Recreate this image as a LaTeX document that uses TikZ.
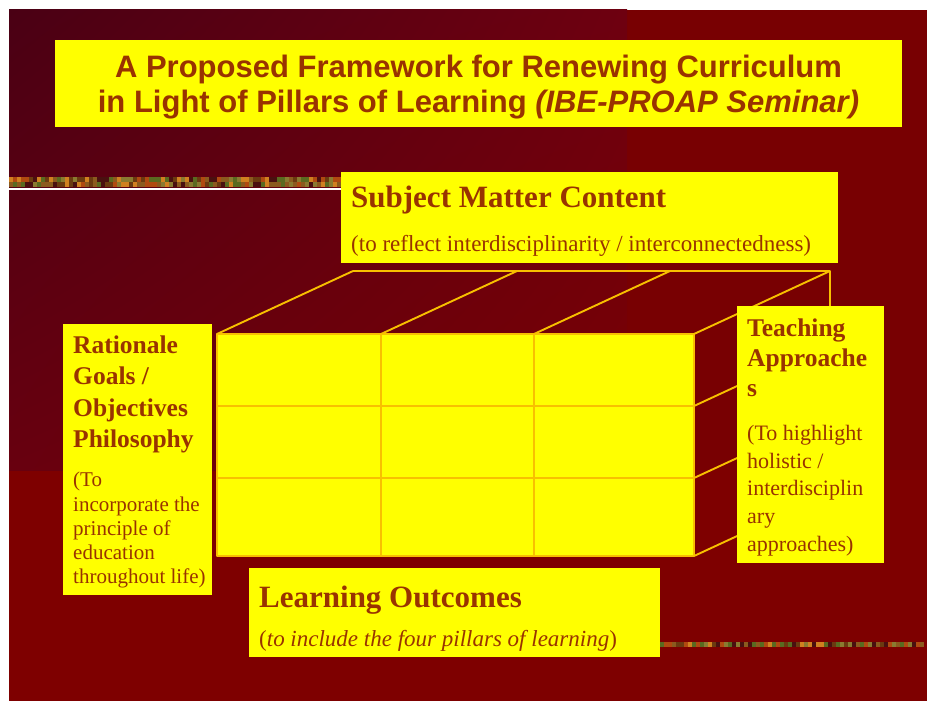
\documentclass[tikz,border=0pt]{standalone}
\usepackage{fontspec}
\setmainfont{Liberation Serif}
\newfontfamily\titlefont{Liberation Sans}
\usepackage{xcolor}
\definecolor{slidered}{HTML}{7E0000}
\definecolor{sidered}{HTML}{780002}
\definecolor{darkcorner}{HTML}{4A0014}
\definecolor{midred}{HTML}{6E0010}
\definecolor{lowred}{HTML}{68000F}
\definecolor{boxyellow}{HTML}{FFFF00}
\definecolor{brownink}{HTML}{993300}
\definecolor{cubeline}{HTML}{F8C000}
\definecolor{stripa}{HTML}{8B5A1E}
\definecolor{stripb}{HTML}{6B3A10}
\definecolor{stripc}{HTML}{B04A10}
\definecolor{stripd}{HTML}{5A6A20}
\definecolor{stripe}{HTML}{D08020}
\definecolor{stripf}{HTML}{4A1010}
\definecolor{stripg}{HTML}{8A7A30}
\usetikzlibrary{positioning, shadings}
\pgfmathdeclarerandomlist{stripcols}{{stripa}{stripb}{stripc}{stripd}{stripe}{stripf}{stripg}}

\begin{document}
\begin{tikzpicture}[x=1pt, y=-1pt,
  ybox/.style={fill=boxyellow, inner sep=0pt, anchor=north west},
  head/.style 2 args={text=brownink, anchor=base west, align=left, inner sep=0pt,
    font=\bfseries\fontsize{#1}{#2}\selectfont},
  body/.style 2 args={text=brownink, anchor=base west, align=left, inner sep=0pt,
    font=\fontsize{#1}{#2}\selectfont},
  cubeedge/.style={draw=cubeline, line width=1.9pt, line join=round},
  gridline/.style={draw=cubeline, line width=1.5pt}]
  \useasboundingbox (0,0) rectangle (927,701);
  \fill[white] (0,0) rectangle (927,701);

  % --- slide background ---
  \fill[slidered] (9,10) rectangle (927,701);
  \fill[sidered] (627,10) rectangle (927,470);
  \shade[upper left=darkcorner, upper right=midred, lower left=lowred, lower right=sidered]
    (9,10) rectangle (627,470);

  % decorative strips
  \pgfmathsetseed{17}
  \foreach \sx in {9,13,...,337}
    \foreach \sy in {177,182} {
      \pgfmathrandomitem{\scol}{stripcols}
      \fill[\scol] (\sx,\sy) rectangle ++(4,5);
    }
  \fill[white] (9,187.5) rectangle (341,189.5);
  \foreach \sx in {660,664,...,923} {
    \pgfmathrandomitem{\scol}{stripcols}
    \fill[\scol] (\sx,642) rectangle ++(4,5);
  }

  % --- title (base = last line) ---
  \node[ybox, minimum width=847pt, minimum height=87pt] (titlebox) at (55,40) {};
  \node[text=brownink, anchor=base, align=center, inner sep=0pt,
    font=\titlefont\bfseries\fontsize{31}{35}\selectfont] (title) at (478.5,112.7)
    {A Proposed Framework for Renewing Curriculum\\
     in Light of Pillars of Learning \textit{(IBE-PROAP Seminar)}};

  % --- the box ---
  \fill[boxyellow] (217,334) rectangle (694,556);
  \foreach \gx in {381,534} \draw[gridline] (\gx,334) -- (\gx,556);
  \foreach \gy in {406,478} \draw[gridline] (217,\gy) -- (694,\gy);
  \draw[cubeedge] (217,334) rectangle (694,556);
  \foreach \gx in {217,381,534,694} \draw[cubeedge] (\gx,334) -- ++(136,-63);
  \foreach \gy in {406,478,556} \draw[cubeedge] (694,\gy) -- ++(136,-63);
  \draw[cubeedge] (353,271) -- (830,271) -- (830,493);

  % --- Subject Matter Content ---
  \node[ybox, minimum width=497pt, minimum height=91pt] (subjbox) at (341,172) {};
  \node[head={31}{36}] (subjhead) at (351,207.3) {Subject Matter Content};
  \node[body={23}{27}] (subjbody) at (351,251)
    {(to reflect interdisciplinarity / interconnectedness)};

  % --- Rationale ---
  \node[ybox, minimum width=149pt, minimum height=271pt] (ratbox) at (63,324) {};
  \node[head={25.5}{31.4}] (rathead) at (73,447.5)
    {Rationale\\ Goals /\\ Objectives\\ Philosophy};
  \node[body={21}{24.3}] (ratbody) at (73,583.9)
    {(To\\ incorporate the\\ principle of\\ education\\ throughout life)};

  % --- Teaching Approaches ---
  \node[ybox, minimum width=147pt, minimum height=257pt] (teachbox) at (737,306) {};
  \node[head={25.5}{30.4}] (teachhead) at (747,396.8)
    {Teaching\\ Approache\\ s};
  \node[body={22}{27.6}] (teachbody) at (747,551.1)
    {(To highlight\\ holistic /\\ interdisciplin\\ ary\\ approaches)};

  % --- Learning Outcomes ---
  \node[ybox, minimum width=411pt, minimum height=89pt] (learnbox) at (249,568) {};
  \node[head={31}{36}] (learnhead) at (259,607.3) {Learning Outcomes};
  \node[body={23}{27}] (learnbody) at (259,646.7)
    {(\textit{to include the four pillars of learning})};
\end{tikzpicture}
\end{document}
